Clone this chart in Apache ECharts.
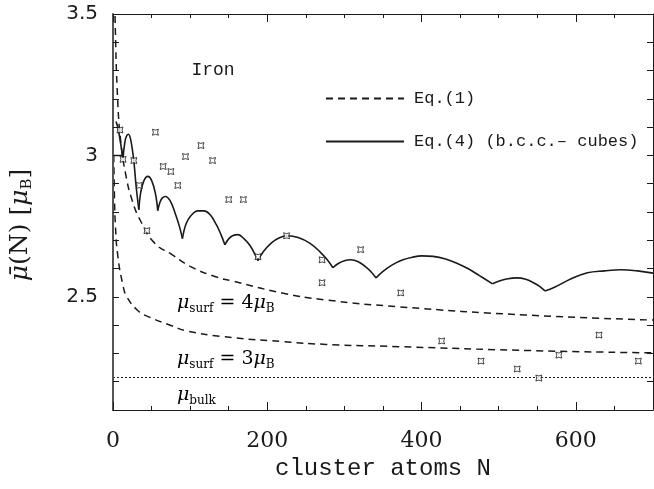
<!DOCTYPE html>
<html>
<head>
<meta charset="utf-8">
<script src="https://cdn.jsdelivr.net/npm/echarts@6/dist/echarts.min.js"></script>
<style>
html, body { margin: 0; padding: 0; background: #fff; }
#main { width: 654px; height: 489px; }
</style>
</head>
<body>
<div id="main"></div>
<script>
// x axis: cluster atoms N, y axis: mean moment in mu_B
var xTickLabels = ['0', '200', '400', '600'];
var yTickLabels = ['2.5', '3', '3.5'];

// Eq.(1), mu_surf = 4 mu_B
var eq1Surf4 = [[2,3.62],[3,3.45],[6,3.2],[10,3.05],[16,2.94],[25,2.84],[37,2.762],[54,2.69],[76,2.65],[100,2.608],
	[132,2.572],[155,2.556],[219,2.514],[276,2.489],[370,2.465],[534,2.436],[700,2.418]];
// Eq.(1), mu_surf = 3 mu_B
var eq1Surf3 = [[1,3.0],[2,2.84],[3,2.76],[6,2.65],[13,2.54],[18,2.5],[32,2.452],[44,2.432],[76,2.398],[95,2.38],
	[141,2.36],[219,2.342],[276,2.332],[370,2.324],[542,2.31],[700,2.302]];
// bulk moment
var bulkLine = [[0,2.215],[700,2.215]];

// Eq.(4) b.c.c. cubes, one arc between two cusps
var eq4Arc1 = [[0,3.0],[13,3.0]];
var eq4Arc2 = [[4,3.12],[7,3.09],[10,3.04],[13,2.99]];
var eq4Arc3 = [[13,2.99],[15,3.04],[17,3.065],[20,3.075],[23,3.055],[27,2.98],[30,2.89],[33.5,2.808]];
var eq4Arc4 = [[33.5,2.808],[36,2.87],[40,2.91],[45,2.926],[50,2.912],[55,2.865],[58,2.805]];
var eq4Arc5 = [[58,2.805],[61,2.835],[64,2.85],[68,2.855],[74,2.84],[80,2.80],[86,2.75],[90,2.706]];
var eq4Arc6 = [[90,2.706],[95,2.76],[102,2.79],[110,2.804],[118,2.804],[126,2.79],[134,2.755],[140,2.72],[145,2.684]];
var eq4Arc7 = [[145,2.684],[150,2.705],[155,2.716],[162,2.72],[170,2.705],[178,2.68],[184,2.65],[188,2.628]];
var eq4Arc8 = [[188,2.628],[195,2.66],[205,2.69],[215,2.708],[226,2.716],[240,2.71],[255,2.69],[268,2.66],[278,2.63],[285,2.603]];
var eq4Arc9 = [[285,2.603],[292,2.618],[300,2.628],[308,2.631],[318,2.624],[328,2.605],[335,2.587],[341,2.567]];
var eq4Arc10 = [[341,2.567],[350,2.59],[362,2.613],[375,2.63],[388,2.64],[400,2.645],[415,2.643],[430,2.635],
	[445,2.62],[460,2.60],[475,2.575],[492,2.546]];
var eq4Arc11 = [[492,2.546],[500,2.555],[510,2.563],[524,2.567],[535,2.562],[545,2.55],[553,2.537],[560,2.521]];
var eq4Arc12 = [[560,2.521],[573,2.535],[594,2.564],[615,2.585],[637,2.592],[658,2.596],[680,2.592],[700,2.584]];
var eq4Arcs = [eq4Arc1, eq4Arc2, eq4Arc3, eq4Arc4, eq4Arc5, eq4Arc6, eq4Arc7, eq4Arc8, eq4Arc9, eq4Arc10, eq4Arc11, eq4Arc12];

// measured cluster moments
var expData = [[9,3.09],[13,2.986],[27,2.982],[34,2.894],[44,2.734],[55,3.082],[65,2.961],[75,2.943],[84,2.894],
	[94,2.996],[114,3.035],[129,2.982],[150,2.844],[169,2.844],[188,2.642],[225,2.716],[271,2.631],[271,2.55],
	[321,2.667],[373,2.514],[426,2.344],[477,2.273],[524,2.245],[552,2.213],[578,2.294],[630,2.365],[681,2.273]];

var EQ1 = 'Eq.(1)';
var EQ4 = 'Eq.(4) (b.c.c.\u2013 cubes)';
var ink = '#1a1a1a';
var serif = 'DejaVu Serif';
var mono = 'Liberation Mono';

var myChart = echarts.init(document.getElementById('main'));

var series = [];
series.push({
	name : EQ1, type : 'line', data : eq1Surf4, smooth : true, symbol : 'none', color : ink,
	lineStyle : { color : ink, width : 1.5, type : [7, 5] }
});
series.push({
	name : EQ1, type : 'line', data : eq1Surf3, smooth : true, symbol : 'none', color : ink,
	lineStyle : { color : ink, width : 1.5, type : [7, 5] }
});
series.push({
	name : 'bulk', type : 'line', data : bulkLine, symbol : 'none', color : ink,
	lineStyle : { color : ink, width : 1, type : [2, 2] }
});
for (var i = 0; i < eq4Arcs.length; i++) {
	series.push({
		name : EQ4, type : 'line', data : eq4Arcs[i], smooth : 0.4, symbol : 'none', color : ink,
		lineStyle : { color : ink, width : 1.6 }
	});
}
series.push({
	name : 'exp', type : 'scatter', data : expData,
	symbol : 'path://M0 0 Q5 3 10 0 Q7 5 10 10 Q5 7 0 10 Q3 5 0 0 Z',
	symbolSize : 6,
	itemStyle : { color : '#fff', borderColor : ink, borderWidth : 1 },
	z : 5
});

function yLabel(v) {
	var s = String(Math.round(v * 10) / 10);
	return yTickLabels.indexOf(s) >= 0 ? s : '';
}
function xLabel(v) {
	var s = String(Math.round(v));
	return xTickLabels.indexOf(s) >= 0 ? s : '';
}

var muRich = {
	m : { fontFamily : serif, fontStyle : 'italic', fontSize : 19, lineHeight : 24, color : ink },
	t : { fontFamily : serif, fontSize : 19, lineHeight : 24, color : ink },
	s : { fontFamily : serif, fontSize : 12, lineHeight : 12, verticalAlign : 'bottom', color : ink }
};

// axes on their own canvas layer, above the plot
function xFrame(pos, withLabels) {
	return {
		type : 'value', min : 0, max : 700, interval : 200, position : pos, zlevel : 1, z : 10,
		axisLine : { show : true, onZero : false, lineStyle : { color : ink, width : 1 } },
		axisTick : { show : true, inside : true, length : 8, lineStyle : { color : ink, width : 1 } },
		minorTick : { show : true, splitNumber : 4, length : 4, lineStyle : { color : ink, width : 1 } },
		axisLabel : withLabels
			? { formatter : xLabel, margin : 20, fontFamily : serif, fontSize : 22, color : ink }
			: { show : false },
		splitLine : { show : false }
	};
}
function yFrame(pos, withLabels) {
	return {
		type : 'value', min : 2.1, max : 3.5, interval : 0.1, position : pos, zlevel : 1, z : 10,
		axisLine : { show : true, onZero : false, lineStyle : { color : withLabels ? '#555' : ink, width : withLabels ? 2 : 1 } },
		axisTick : { show : true, inside : true, length : 6, lineStyle : { color : ink, width : 1 } },
		axisLabel : withLabels
			? { formatter : yLabel, margin : 15, fontFamily : 'DejaVu Sans', fontSize : 20, color : ink }
			: { show : false },
		splitLine : { show : false }
	};
}

var xBottom = xFrame('bottom', true);
xBottom.name = 'cluster atoms N';
xBottom.nameLocation = 'middle';
xBottom.nameGap = 46;
xBottom.nameTextStyle = { fontFamily : mono, fontSize : 24, color : ink };

var yLeft = yFrame('left', true);
yLeft.name = '{m|\u03bc\u0304}{t|(N) [}{m|\u03bc}{s|B}{t|]}';
yLeft.nameLocation = 'middle';
yLeft.nameGap = 78;
yLeft.nameTextStyle = { padding : [0, 26, 0, 0], rich : {
	m : { fontFamily : serif, fontStyle : 'italic', fontSize : 25, lineHeight : 30, color : ink },
	t : { fontFamily : serif, fontSize : 25, lineHeight : 30, color : ink },
	s : { fontFamily : serif, fontSize : 15, lineHeight : 15, verticalAlign : 'bottom', color : ink }
} };

var option = {
	animation : false,
	grid : { left : 113, right : 1, top : 14, bottom : 79, outerBoundsMode : 'none' },
	legend : {
		orient : 'vertical', left : 320, top : 85,
		itemWidth : 78, itemHeight : 17, itemGap : 26,
		data : [ EQ1, EQ4 ],
		itemStyle : { opacity : 0 },
		textStyle : { fontFamily : mono, fontSize : 17, color : ink, padding : [0, 0, 0, 5] }
	},
	xAxis : [ xBottom, xFrame('top', false) ],
	yAxis : [ yLeft, yFrame('right', false) ],
	graphic : [ {
		type : 'text', x : 213, y : 70,
		style : { text : 'Iron', fontFamily : mono, fontSize : 18, fill : ink, align : 'center', verticalAlign : 'middle' }
	}, {
		type : 'text', x : 177, y : 303,
		style : { text : '{m|\u03bc}{s|surf}{t| = 4}{m|\u03bc}{s|B}', rich : muRich, verticalAlign : 'middle' }
	}, {
		type : 'text', x : 177, y : 359,
		style : { text : '{m|\u03bc}{s|surf}{t| = 3}{m|\u03bc}{s|B}', rich : muRich, verticalAlign : 'middle' }
	}, {
		type : 'text', x : 177, y : 395,
		style : { text : '{m|\u03bc}{s|bulk}', rich : muRich, verticalAlign : 'middle' }
	} ],
	series : series
};
myChart.setOption(option);
</script>
</body>
</html>
